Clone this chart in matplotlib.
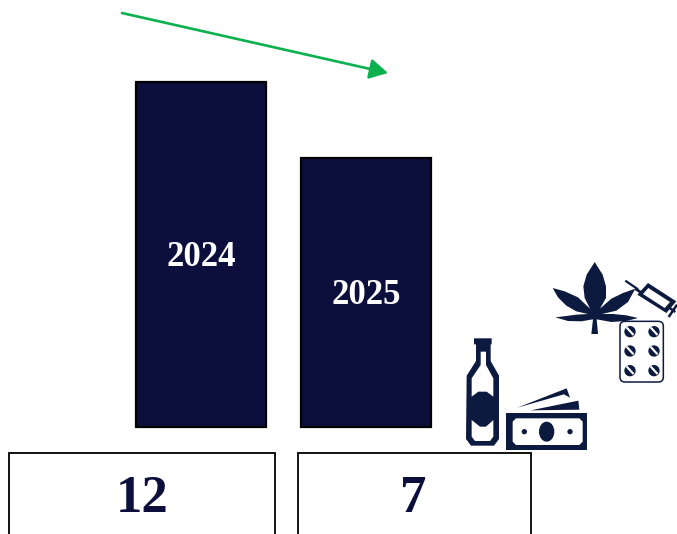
import matplotlib
matplotlib.use("Agg")
from matplotlib import pyplot as plt
from matplotlib.patches import Polygon, Rectangle, Ellipse, FancyBboxPatch

years = ["2024", "2025"]
bar_heights = [345, 269]
counts = ["12", "7"]

navy = "#0c0f3c"
icon = "#0c1a40"
green = "#0bb04f"

fig = plt.figure(figsize=(6.77, 5.34), dpi=100)
ax = fig.add_axes([0, 0, 1, 1])
ax.set_xlim(0, 677)
ax.set_ylim(0, 534)
ax.axis("off")
serif = "Liberation Serif"

# icon outlines are in 3x crop pixels, org is the corner of that crop
org = (548, 258)


def pt(x, y):
    return (org[0] + x / 3, 534 - (org[1] + y / 3))


def shape(points, color=icon, z=5):
    ax.add_patch(Polygon([pt(x, y) for x, y in points], closed=True, fc=color, ec="none", zorder=z))


def oval(x, y, w, h, color=icon, z=6):
    ax.add_patch(Ellipse(pt(x, y), w / 3, h / 3, fc=color, ec="none", zorder=z))


def stroke(x, y, width, z=5):
    xs, ys = zip(*[pt(a, b) for a, b in zip(x, y)])
    ax.plot(xs, ys, color=icon, lw=width, zorder=z, solid_capstyle="butt")


# bars
bar_x = [201, 366]
base = 107
ax.bar(bar_x, bar_heights, width=130, bottom=base, color=navy, edgecolor="black", linewidth=1.6, zorder=2)
text_y = [276, 238]
for x, y, label in zip(bar_x, text_y, years):
    ax.text(x, y, label, color="white", fontsize=25, fontweight="bold", family=serif,
            ha="center", va="center", zorder=3)

# boxes under the bars, they run off the bottom of the picture
boxes = [(9, 266), (298, 233)]
count_x = [142, 413]
for (left, w), x, label in zip(boxes, count_x, counts):
    ax.add_patch(Rectangle((left, -20), w, 101, fc="white", ec="black", lw=1.3, zorder=2))
    ax.text(x, 35.5, label, color=navy, fontsize=38, fontweight="bold", family=serif,
            ha="center", va="center", zorder=3)

# trend arrow
ax.annotate("", xy=(388, 534 - 73), xytext=(122, 534 - 13),
            arrowprops=dict(arrowstyle="-|>,head_length=1.0,head_width=0.55", color=green, lw=1.9,
                            shrinkA=0, shrinkB=0, mutation_scale=11))

# leaf
shape([(140, 12), (116, 50), (106, 85), (110, 120), (126, 152), (90, 118), (50, 100), (14, 90),
       (30, 118), (55, 143), (85, 160), (120, 168), (85, 170), (55, 174), (22, 178), (60, 189),
       (100, 190), (135, 184), (130, 228), (150, 228), (146, 184), (190, 192), (235, 189), (270, 180),
       (235, 172), (195, 168), (162, 168), (205, 158), (240, 132), (262, 92), (225, 105), (190, 122),
       (156, 152), (174, 120), (174, 85), (164, 50)])

# syringe
shape([(300, 75), (385, 130), (355, 165), (268, 110)])
shape([(301, 90), (366, 132), (350, 150), (285, 108)], color="white", z=6)
stroke([232, 270], [68, 94], 1.6)
stroke([262, 280], [92, 104], 2.0)
stroke([365, 382], [150, 162], 1.8)
stroke([362, 387], [177, 140], 1.8)

# pill card
ax.add_patch(FancyBboxPatch(pt(216, 372), 130 / 3, 182 / 3, boxstyle="round,pad=0,rounding_size=5",
                            fc="white", ec=icon, lw=1.1, zorder=7))
for px in (246, 318):
    for py in (221, 279, 338):
        oval(px, py, 34, 34, z=8)
        shape([(px - 13, py - 11), (px - 8, py - 15), (px + 13, py + 8), (px + 8, py + 12)], color="white", z=9)

org = (460, 335)
shape([(42, 10), (95, 10), (95, 28), (92, 28), (92, 78), (117, 122), (117, 312), (102, 332),
       (33, 332), (18, 312), (20, 122), (48, 78), (48, 28), (42, 28)])
shape([(62, 50), (78, 50), (78, 90), (100, 130), (100, 185), (80, 170), (55, 170), (35, 185),
       (35, 130), (62, 90)], color="white", z=6)
shape([(35, 255), (60, 275), (78, 275), (100, 255), (100, 305), (90, 318), (45, 318), (35, 305)],
      color="white", z=6)

shape([(138, 235), (382, 235), (382, 345), (138, 345)])
shape([(168, 250), (358, 250), (368, 260), (368, 320), (358, 330), (168, 330), (158, 320), (158, 260)],
      color="white", z=6)
oval(260, 290, 46, 60, z=7)
oval(193, 290, 16, 16, z=7)
oval(330, 290, 16, 16, z=7)
shape([(172, 218), (320, 160), (330, 188), (312, 178)])
shape([(212, 226), (355, 197), (358, 224)])

fig.savefig("out.png", dpi=100)
